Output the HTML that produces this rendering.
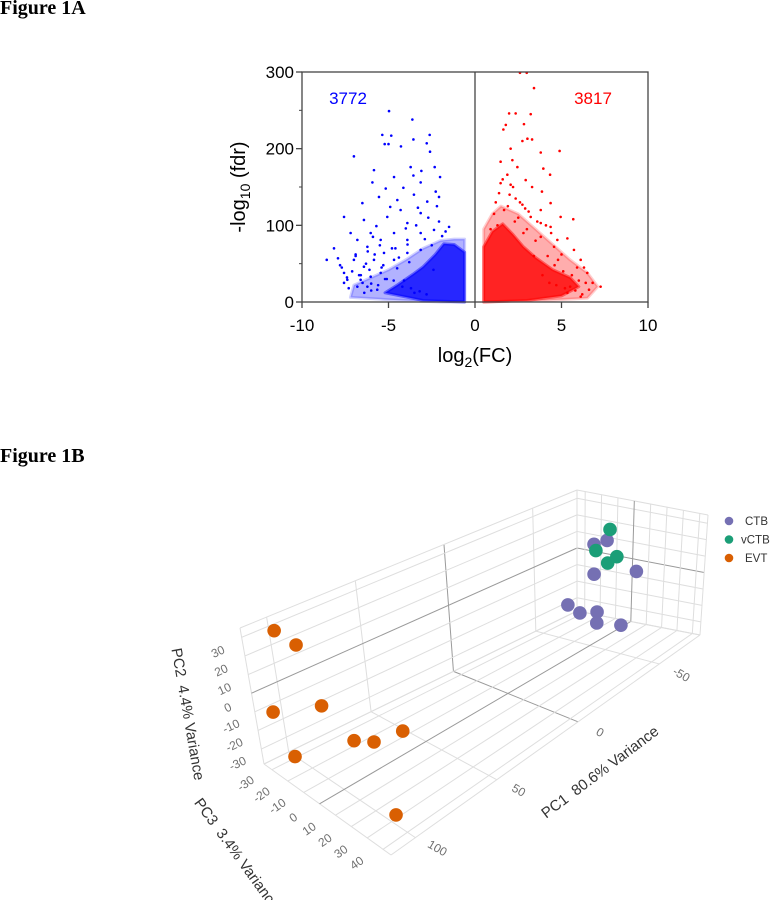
<!DOCTYPE html>
<html><head><meta charset="utf-8">
<style>
html,body{margin:0;padding:0;background:#fff;}
body{width:777px;height:900px;position:relative;overflow:hidden;}
.fig{position:absolute;left:0;font-family:"Liberation Serif",serif;font-weight:bold;font-size:20px;color:#000;}
svg text{font-family:"Liberation Sans",sans-serif;}
</style></head>
<body>
<div class="fig" style="top:-3px">Figure 1A</div>
<div class="fig" style="top:445px">Figure 1B</div>

<svg id="volcano" width="777" height="400" style="position:absolute;left:0;top:0">
  <g id="vgrid"></g>
  <g id="vpts"></g>
  <g id="vaxes"></g>
  <text x="348" y="104" fill="#0000ff" font-size="17" text-anchor="middle">3772</text>
  <text x="593" y="104" fill="#ff0000" font-size="17" text-anchor="middle">3817</text>
  <text transform="translate(245,187) rotate(-90)" font-size="20" text-anchor="middle" fill="#000">-log<tspan font-size="14" dy="5">10</tspan><tspan dy="-5"> (fdr)</tspan></text>
  <text x="475" y="362" font-size="20" text-anchor="middle" fill="#000">log<tspan font-size="14" dy="5">2</tspan><tspan dy="-5">(FC)</tspan></text>
</svg>

<svg id="pca" width="777" height="900" style="position:absolute;left:0;top:0">
  <g id="pgrid"></g>
  <g id="pticks"></g>
  <g id="pdots"></g>
  <text transform="translate(183,715) rotate(80)" font-size="15" fill="#333" text-anchor="middle">PC2&#160;&#160;4.4% Variance</text>
  <text transform="translate(233,857) rotate(54)" font-size="15" fill="#333" text-anchor="middle">PC3&#160;&#160;3.4% Variance</text>
  <text transform="translate(603,776) rotate(-37)" font-size="15" fill="#333" text-anchor="middle">PC1&#160;&#160;80.6% Variance</text>
  <g id="legend"></g>
</svg>

<script>
// ---------- Volcano data ----------
const xTicks = [-10, -5, 0, 5, 10];
const yTicks = [0, 100, 200, 300];
const downX = [-4.97,-3.62,-5.36,-4.84,-2.62,-3.56,-2.79,-5.22,-5.0,-4.28,-2.6,-7.0,-3.72,-2.33,-5.84,-3.1,-3.56,-4.68,-2.02,-5.93,-3.14,-5.16,-4.14,-2.27,-2.08,-3.53,-5.55,-4.49,-6.51,-2.76,-7.57,-7.19,-8.15,-8.57,-7.92,-7.57,-7.57,-6.42,-6.03,-5.07,-3.91,-3.14,-2.08,-1.5,-6.8,-6.22,-5.45,-4.68,-3.91,-3.14,-2.37,-7.0,-6.42,-5.84,-5.26,-4.68,-3.91,-3.14,-6.61,-6.03,-5.45,-6.22,-5.65,-7.38,-6.8,-7.7,-6.9,-6.1,-5.3,-4.5,-3.8,-2.9,-2.5,-1.9,-4.3,-5.7,-6.6,-3.3,-2.2,-4.0,-4.9,-5.9,-7.3,-6.4,-1.7,-2.7,-3.4,-4.6,-5.1,-6.0,-6.7,-6.3,-5.8,-5.4,-4.8,-4.4,-3.9,-7.1,-6.9,-6.5,-6.0,-5.6,-5.2,-4.7,-4.2,-3.7,-3.2,-2.8,-7.4,-7.8,-6.2,-5.5,-4.1,-3.5,-2.4];
const downY = [249,238,218,217,218,212,207,206,206,203,196,190,176,176,172,171,165,163,163,156,156,148,149,144,137,140,137,133,129,131,111,90,70,55,57,38,25,107,90,111,103,116,105,98,81,72,81,90,81,90,94,55,46,55,64,55,64,68,29,33,38,20,16,29,20,45,62,42,48,44,52,82,74,86,120,99,35,123,125,96,124,85,18,12,92,110,100,70,30,24,35,50,62,45,70,58,75,40,60,25,15,22,30,28,20,18,14,10,32,48,66,74,28,12,42,60];
const upX = [2.6,2.99,3.41,1.97,2.35,3.22,1.78,2.83,1.64,3.03,3.3,2.74,4.89,2.06,3.8,2.16,1.48,1.87,2.45,3.95,4.34,2.93,1.48,2.06,3.3,3.87,2.35,1.39,2.74,4.37,3.8,5.68,4.95,1.68,3.22,4.37,5.34,4.76,5.72,6.11,6.49,7.26,6.59,6.11,5.34,3.8,3.8,4.57,1.2,1.1,2.0,2.6,3.1,4.1,5.0,5.9,6.8,4.4,3.6,2.9,1.3,0.9,5.5,6.3,4.8,3.4,2.2,1.6,4.2,4.6,5.1,5.6,6.0,6.4,3.9,4.3,4.7,5.2,5.8,6.2,2.5,3.0,3.5,1.9,2.3,2.8];
const upY = [299,299,279,246,246,245,231,232,225,213,212,210,197,200,195,185,183,166,176,174,166,159,155,153,150,144,135,142,127,129,120,108,111,120,111,98,83,81,68,55,38,20,16,7,12,85,103,72,130,115,140,130,118,100,62,45,25,90,105,122,100,95,20,45,55,60,150,160,60,48,40,35,28,25,35,25,22,18,15,10,110,95,80,125,105,90];
// dense regions (data coordinates: log2FC, -log10 fdr)
const downMidX = [-0.6,-0.6,-1.2,-2.0,-3.0,-4.0,-5.0,-6.0,-7.0,-7.2,-5.0,-2.0];
const downMidY = [0,82,82,80,70,55,42,32,22,6,3,0];
const downCoreX = [-0.6,-0.6,-1.2,-1.8,-2.3,-3.0,-3.6,-4.5,-5.2,-3.0,-0.6];
const downCoreY = [0,65,75,76,62,46,36,22,12,2,0];
const upMidX = [0.5,0.5,1.0,1.5,2.5,3.5,4.5,5.5,6.5,7.1,6.5,4.0,0.5];
const upMidY = [0,95,115,125,115,95,75,55,38,20,5,2,0];
const upCoreX = [0.5,0.5,1.0,1.6,2.2,2.8,3.5,4.5,5.5,6.0,5.0,3.0,0.5];
const upCoreY = [0,72,92,102,88,72,58,42,32,20,8,2,0];

const NS = 'http://www.w3.org/2000/svg';
function mk(tag, attrs, parent){const e=document.createElementNS(NS,tag);for(const k in attrs)e.setAttribute(k,attrs[k]);parent.appendChild(e);return e;}
const vx = v => 302 + (v + 10) / 20 * 346;
const vy = v => 302 - v / 300 * 230;

const vpts = document.getElementById('vpts');
function hull(xs, ys, color, op, name){
  const p = mk('polygon',{points: xs.map((x,i)=>vx(x)+','+vy(ys[i])).join(' '), fill: color, 'fill-opacity': op, stroke: color, 'stroke-opacity': op*0.6, 'stroke-width': 3, 'stroke-linejoin':'round'}, vpts);
  
  
}
hull(downMidX, downMidY, '#0000ff', 0.3, 'down-density-mid');
hull(downCoreX, downCoreY, '#0000ff', 0.78, 'down-density-core');
hull(upMidX, upMidY, '#ff0000', 0.32, 'up-density-mid');
hull(upCoreX, upCoreY, '#ff0000', 0.8, 'up-density-core');
downX.forEach((x,i)=>{
  const c = mk('circle',{cx:vx(x),cy:vy(downY[i]),r:1.3,fill:'#0000ff'},vpts);
  
  
});
upX.forEach((x,i)=>{
  const c = mk('circle',{cx:vx(x),cy:vy(upY[i]),r:1.3,fill:'#ff0000'},vpts);
  
  
});

const vaxes = document.getElementById('vaxes');
mk('rect',{x:vx(-10),y:vy(300),width:vx(10)-vx(-10),height:vy(0)-vy(300),fill:'none',stroke:'#444','stroke-width':1.3},vaxes);
mk('line',{x1:vx(0),y1:vy(300),x2:vx(0),y2:vy(0),stroke:'#444','stroke-width':1.3},vaxes);
xTicks.forEach(t=>{
  mk('line',{x1:vx(t),y1:vy(0),x2:vx(t),y2:vy(0)+6,stroke:'#444','stroke-width':1.3},vaxes);
  const l = mk('text',{x:vx(t),y:vy(0)+29,'font-size':17,'text-anchor':'middle',fill:'#000'},vaxes);
  l.textContent = t;
  
  
});
yTicks.forEach(t=>{
  mk('line',{x1:vx(-10)-6,y1:vy(t),x2:vx(-10),y2:vy(t),stroke:'#444','stroke-width':1.3},vaxes);
  const l = mk('text',{x:vx(-10)-8,y:vy(t)+6,'font-size':17,'text-anchor':'end',fill:'#000'},vaxes);
  l.textContent = t;
  
  
});
[50,150,250].forEach(t=>mk('line',{x1:vx(-10)-3,y1:vy(t),x2:vx(-10),y2:vy(t),stroke:'#444','stroke-width':1},vaxes));

// ---------- PCA data ----------
const pc1Range = [-75, 115], pc2Range = [-38, 35], pc3Range = [-35, 45];
const pc1Ticks = [-50, 0, 50, 100];
const pc2Ticks = [-30, -20, -10, 0, 10, 20, 30];
const pc3Ticks = [-30, -20, -10, 0, 10, 20, 30, 40];
const groups = ['CTB', 'vCTB', 'EVT'];
const ctbPC1 = [-60,-60,-60,-60,-60,-60,-60,-60,-60];
const ctbPC2 = [15.1,19.2,-2.8,4.8,-24.9,-28,-25,-31.6,-29.5];
const ctbPC3 = [-8.4,-0.4,-8.2,18.1,-24.8,-17.1,-6.1,-6.2,9.3];
const vctbPC1 = [-60,-60,-60,-60];
const vctbPC2 = [26.2,11.6,10.9,5.8];
const vctbPC3 = [1.3,-7.2,5.8,0.2];
const evtPC1 = [105,105,105,105,105,105,105,105,105];
const evtPC2 = [35.5,35.5,-14.3,9.1,1.3,8.4,26,-32.3,-25.8];
const evtPC3 = [-25.7,-13.4,-35,-2.4,15.8,28.2,46,-24.8,38.8];

// projection: screen positions of the 8 box corners (perspective approximated by trilinear interpolation)
const F_A=[264,764], F_B=[391,855], F_C=[700,635], F_D=[577,611];
const T_A=[240,628], T_B=[383,725], T_C=[708,515], T_D=[577,490];
function lerp(p,q,t){return [p[0]+(q[0]-p[0])*t, p[1]+(q[1]-p[1])*t];}
function proj(x,y,z){
  const u=(pc1Range[1]-x)/(pc1Range[1]-pc1Range[0]);
  const v=(y-pc2Range[0])/(pc2Range[1]-pc2Range[0]);
  const s=(z-pc3Range[0])/(pc3Range[1]-pc3Range[0]);
  const b=lerp(lerp(F_A,F_D,u),lerp(F_B,F_C,u),s);
  const t=lerp(lerp(T_A,T_D,u),lerp(T_B,T_C,u),s);
  return lerp(b,t,v);
}
const pgrid=document.getElementById('pgrid');
function seg(p,q,col,w){mk('line',{x1:p[0],y1:p[1],x2:q[0],y2:q[1],stroke:col,'stroke-width':w},pgrid);}
const L='#dedede', Z='#9a9a9a';
const [x0,x1]=pc1Range,[y0,y1]=pc2Range,[z0,z1]=pc3Range;
// left wall (PC3 = min)
pc1Ticks.concat([x0,x1]).forEach(t=>seg(proj(t,y0,z0),proj(t,y1,z0),t===0?Z:L,1));
pc2Ticks.concat([y0,y1]).forEach(t=>seg(proj(x0,t,z0),proj(x1,t,z0),t===0?Z:L,1));
// floor (PC2 = min)
pc1Ticks.concat([x0,x1]).forEach(t=>seg(proj(t,y0,z0),proj(t,y0,z1),t===0?Z:L,1));
pc3Ticks.concat([z0,z1]).forEach(t=>seg(proj(x0,y0,t),proj(x1,y0,t),t===0?Z:L,1));
// right wall (PC1 = min)
pc2Ticks.concat([y0,y1]).forEach(t=>seg(proj(x0,t,z0),proj(x0,t,z1),t===0?Z:L,1));
pc3Ticks.concat([z0,z1]).forEach(t=>seg(proj(x0,y0,t),proj(x0,y1,t),t===0?Z:L,1));

const pticks=document.getElementById('pticks');
function tlabel(p,dx,dy,rot,txt,name){
  const e=mk('text',{transform:`translate(${p[0]+dx},${p[1]+dy}) rotate(${rot})`,'font-size':12,fill:'#707070','text-anchor':'middle'},pticks);
  e.textContent=txt;
  
  
}
pc1Ticks.forEach(t=>tlabel(proj(t,y0,z1),20,14,30,t,'pc1-tick-label'));
pc2Ticks.forEach(t=>tlabel(proj(x1,t,z0),-22,18,-25,t,'pc2-tick-label'));
pc3Ticks.forEach(t=>tlabel(proj(x1,y0,t),-24,17,-35,t,'pc3-tick-label'));

const colors={CTB:'#7570b3',vCTB:'#1b9e77',EVT:'#d95f02'};
const pdots=document.getElementById('pdots');
function dots(X,Y,Zs,g){
  X.forEach((x,i)=>{
    const p=proj(x,Y[i],Zs[i]);
    const c=mk('circle',{cx:p[0],cy:p[1],r:6.8,fill:colors[g]},pdots);
    
    
  });
}
dots(ctbPC1,ctbPC2,ctbPC3,'CTB');
dots(vctbPC1,vctbPC2,vctbPC3,'vCTB');
dots(evtPC1,evtPC2,evtPC3,'EVT');

const legend=document.getElementById('legend');
groups.forEach((g,i)=>{
  const y=521+i*18.5;
  const c=mk('circle',{cx:729,cy:y,r:4.3,fill:colors[g]},legend);
  
  
  const t=mk('text',{x:g==='vCTB'?741:745,y:y+4,'font-size':11.5,fill:'#333'},legend);
  t.textContent=g;
  
  
});
</script>
</body></html>
